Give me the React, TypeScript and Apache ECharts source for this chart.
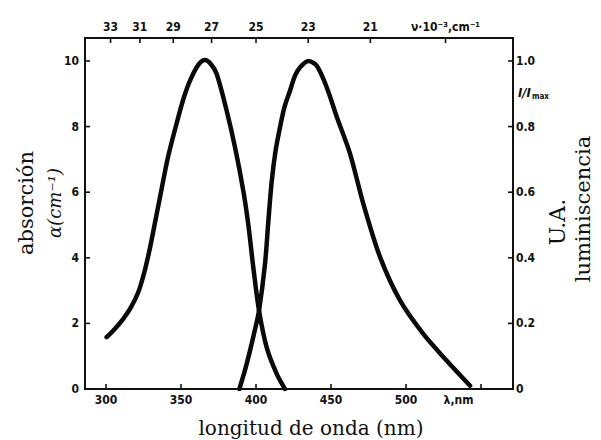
import { useEffect, useRef } from "react";
import * as echarts from "echarts";

// Bottom axis: wavelength (nm)
const wavelengthTicks = [300, 350, 400, 450, 500, 550];
const wavelengthLabelValues = [300, 350, 400, 450, 500, 535];
const wavelengthLabels = ["300", "350", "400", "450", "500", "λ,nm"];
// Top axis: wavenumber (×10³ cm⁻¹)
const wavenumberTicks = [33, 31, 29, 27, 25, 23, 21, 19];
const wavenumberLabels = ["33", "31", "29", "27", "25", "23", "21", "ν·10⁻³,cm⁻¹"];
// Left axis: absorption
const absTicks = [0, 2, 4, 6, 8, 10];
// Right axis: luminescence
const lumTicks = [0, 0.2, 0.4, 0.6, 0.8, 1.0];
const lumTickLabels = ["0", "0.2", "0.4", "0.6", "0.8", "1.0"];

// Absorption curve α (cm⁻¹)
const absWavelength = [300.4, 306, 311.5, 316.5, 321.5, 325.5, 329.3, 333, 336, 341.5, 348.2, 352, 356, 361.5, 366, 370, 373.8, 380.4, 386, 391.5, 394.9, 398.2, 402, 407.1, 413.8, 419.3];
const absValue = [1.58, 1.84, 2.14, 2.48, 2.95, 3.55, 4.3, 5.15, 5.85, 7.1, 8.29, 8.9, 9.4, 9.88, 10.03, 9.9, 9.6, 8.49, 7.37, 6.05, 5.0, 3.7, 2.39, 1.27, 0.46, 0];

// Luminescence curve I/Imax
const lumWavelength = [388.9, 392.5, 396, 399, 402, 406, 408.2, 410.4, 413, 416, 419, 422.7, 426, 429.3, 434.9, 440.4, 447.1, 453.8, 462.7, 471.5, 482.7, 496, 511.5, 527, 542.7];
const lumValue = [0, 0.055, 0.117, 0.175, 0.239, 0.382, 0.51, 0.63, 0.725, 0.798, 0.86, 0.91, 0.955, 0.98, 1.0, 0.986, 0.92, 0.83, 0.717, 0.565, 0.402, 0.27, 0.168, 0.087, 0.01];

const X_MIN = 286;
const X_MAX = 571.3;
const Y_MAX = 10.7;
const Y2_MAX = 1.07;

export default function App() {
  const ref = useRef<HTMLDivElement>(null);

  useEffect(() => {
    document.body.style.margin = "0";
    if (!ref.current) return;
    const chart = echarts.init(ref.current, null, { renderer: "svg" });

    const labelFont = {
      fontFamily: "'DejaVu Sans Condensed','Liberation Sans Narrow','DejaVu Sans',sans-serif",
      fontWeight: "bold" as const,
      fontSize: 12,
      color: "#111",
    };
    const serif = "'DejaVu Serif','Liberation Serif',serif";
    const noLine = { show: false, onZero: false };
    const noTick = { show: false };
    const TICK = 5;
    const tickStyle = { stroke: "#111", lineWidth: 1.6 };

    const topPos = wavenumberTicks.map((k) => 1e4 / k);

    // tick data: [value, kind] kind 0=bottom,1=top,2=left
    const tickData: number[][] = [
      ...wavelengthTicks.map((v) => [v, 0]),
      ...topPos.map((v) => [v, 1]),
      ...absTicks.filter((v) => v > 0).map((v) => [v, 2]),
    ];
    const rightTickData: number[][] = lumTicks.filter((v) => v > 0).map((v) => [v, 3]);

    const renderTick = (_params: any, api: any) => {
      const v = api.value(0);
      const kind = api.value(1);
      let x1 = 0, y1 = 0, x2 = 0, y2 = 0;
      if (kind === 0) {
        const p = api.coord([v, 0]);
        x1 = x2 = p[0]; y1 = p[1]; y2 = p[1] - TICK;
      } else if (kind === 1) {
        const p = api.coord([v, Y_MAX]);
        x1 = x2 = p[0]; y1 = p[1]; y2 = p[1] + TICK;
      } else if (kind === 2) {
        const p = api.coord([X_MIN, v]);
        y1 = y2 = p[1]; x1 = p[0]; x2 = p[0] + TICK;
      } else {
        const p = api.coord([X_MAX, v]);
        y1 = y2 = p[1]; x1 = p[0]; x2 = p[0] - TICK;
      }
      return { type: "line", shape: { x1, y1, x2, y2 }, style: tickStyle };
    };

    chart.setOption({
      animation: false,
      backgroundColor: "#fff",
      grid: {
        left: 85, right: 88, top: 38, bottom: 51, containLabel: false,
        show: true, borderColor: "#111", borderWidth: 2, backgroundColor: "transparent",
      },
      xAxis: [
        {
          type: "value",
          position: "bottom",
          min: X_MIN,
          max: X_MAX,
          axisLine: noLine,
          axisTick: noTick,
          axisLabel: {
            ...labelFont,
            margin: 5,
            customValues: wavelengthLabelValues,
            formatter: (v: number) => {
              const i = wavelengthLabelValues.findIndex((p) => Math.abs(p - v) < 1e-6);
              return i >= 0 ? wavelengthLabels[i] : "";
            },
          },
          splitLine: { show: false },
        },
        {
          type: "value",
          position: "top",
          min: X_MIN,
          max: X_MAX,
          axisLine: noLine,
          axisTick: noTick,
          axisLabel: {
            ...labelFont,
            margin: 5,
            customValues: topPos,
            formatter: (v: number) => {
              const i = topPos.findIndex((p) => Math.abs(p - v) < 1e-6);
              return i >= 0 ? wavenumberLabels[i] : "";
            },
          },
          splitLine: { show: false },
        },
      ],
      yAxis: [
        {
          type: "value",
          position: "left",
          min: 0,
          max: Y_MAX,
          axisLine: noLine,
          axisTick: noTick,
          axisLabel: { ...labelFont, margin: 6, customValues: absTicks, formatter: (v: number) => String(v) },
          splitLine: { show: false },
        },
        {
          type: "value",
          position: "right",
          min: 0,
          max: Y2_MAX,
          axisLine: noLine,
          axisTick: noTick,
          axisLabel: {
            ...labelFont,
            margin: 3,
            customValues: lumTicks,
            formatter: (v: number) => {
              const i = lumTicks.findIndex((p) => Math.abs(p - v) < 1e-6);
              return i >= 0 ? lumTickLabels[i] : "";
            },
          },
          splitLine: { show: false },
        },
      ],
      series: [
        {
          type: "custom",
          name: "ticks",
          xAxisIndex: 0,
          yAxisIndex: 0,
          silent: true,
          clip: false,
          data: tickData,
          encode: { x: -1, y: -1 },
          renderItem: renderTick,
          z: 5,
        },
        {
          type: "custom",
          name: "ticksRight",
          xAxisIndex: 0,
          yAxisIndex: 1,
          silent: true,
          clip: false,
          data: rightTickData,
          encode: { x: -1, y: -1 },
          renderItem: renderTick,
          z: 5,
        },
        {
          type: "line",
          name: "absorción",
          xAxisIndex: 0,
          yAxisIndex: 0,
          data: absWavelength.map((w, i) => [w, absValue[i]]),
          smooth: 0.3,
          showSymbol: false,
          lineStyle: { color: "#0a0a0a", width: 4.5, cap: "round", join: "round" },
        },
        {
          type: "line",
          name: "luminiscencia",
          xAxisIndex: 0,
          yAxisIndex: 1,
          data: lumWavelength.map((w, i) => [w, lumValue[i]]),
          smooth: 0.3,
          showSymbol: false,
          lineStyle: { color: "#0a0a0a", width: 4.5, cap: "round", join: "round" },
        },
      ],
      graphic: [
        {
          type: "text",
          x: 26,
          y: 203,
          rotation: Math.PI / 2,
          style: { text: "absorción", font: `21px ${serif}`, fill: "#111", align: "center", verticalAlign: "middle" },
        },
        {
          type: "text",
          x: 54,
          y: 203,
          rotation: Math.PI / 2,
          style: { text: "α(cm⁻¹)", font: `italic 18px ${serif}`, fill: "#111", align: "center", verticalAlign: "middle" },
        },
        {
          type: "text",
          x: 557,
          y: 222,
          rotation: Math.PI / 2,
          style: { text: "U.A.", font: `22px ${serif}`, fill: "#111", align: "center", verticalAlign: "middle" },
        },
        {
          type: "text",
          x: 583,
          y: 209,
          rotation: Math.PI / 2,
          style: { text: "luminiscencia", font: `21px ${serif}`, fill: "#111", align: "center", verticalAlign: "middle" },
        },
        {
          type: "text",
          x: 311,
          y: 428,
          style: { text: "longitud de onda (nm)", font: `20px ${serif}`, fill: "#111", align: "center", verticalAlign: "middle" },
        },
        {
          type: "text",
          x: 518,
          y: 92,
          style: {
            text: "{a|I/I}{b|max}",
            align: "left",
            verticalAlign: "middle",
            rich: {
              a: { font: `italic bold 13px 'DejaVu Sans Condensed','DejaVu Sans',sans-serif`, fill: "#111" } as any,
              b: { font: `bold 8px 'DejaVu Sans Condensed','DejaVu Sans',sans-serif`, fill: "#111", padding: [8, 0, 0, 1] } as any,
            },
          },
        },
      ],
    });

    return () => chart.dispose();
  }, []);

  return <div ref={ref} style={{ width: 601, height: 440 }} />;
}
